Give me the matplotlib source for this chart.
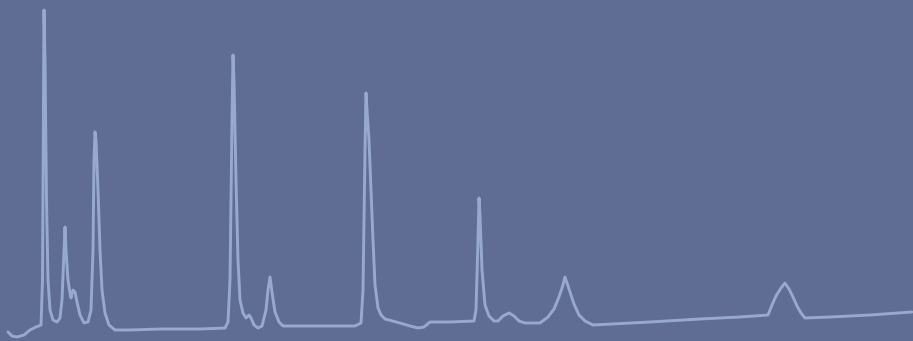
import numpy as np
import matplotlib
matplotlib.use('Agg')
import matplotlib.pyplot as plt

# trace (time, signal)
time = [8, 12, 17, 24, 30, 36, 41, 42.5, 43.5, 44, 45, 46.5, 48, 50, 53, 57, 60, 62, 64, 65,
        66, 68, 70, 71, 73, 75, 77, 80, 84, 88, 91, 93, 94, 95, 96, 98, 100, 102, 105, 109,
        115, 130, 160, 200, 225, 228, 230, 232, 233, 234, 236, 238, 240, 243, 246, 249, 251,
        254, 258, 262, 266, 268, 270, 272, 275, 279, 283, 300, 330, 355, 361, 363, 365, 366,
        367, 369, 371, 373, 375, 378, 381, 385, 400, 410, 418, 424, 430, 450, 474, 476, 478, 479,
        480, 482, 485, 489, 494, 498, 503, 509, 514, 519, 525, 540, 548, 554, 559, 563, 565,
        567, 570, 574, 579, 585, 593, 650, 700, 740, 768, 772, 776, 781, 785, 789, 793, 797,
        801, 805, 830, 870, 912]
signal = [9, 5, 4, 6, 11, 14, 16, 61, 241, 331, 281, 141, 61, 31, 21, 19, 23, 41, 91, 114,
          91, 61, 48, 43, 51, 49, 39, 26, 18, 19, 31, 91, 181, 209, 201, 151, 91, 51, 28, 16,
          11, 11, 12, 12, 13, 19, 61, 221, 286, 261, 161, 81, 41, 28, 23, 26, 23,
          16, 13, 15, 31, 51, 64, 49, 29, 19, 15, 15, 15, 15, 18, 51, 191, 248,
          231, 201, 151, 101, 56, 33, 26, 22, 18, 15, 13, 14, 19, 19, 20, 31, 101, 143,
          126, 71, 36, 25, 20, 20, 25, 28, 25, 20, 18, 18, 24, 32, 44, 56, 64,
          58, 49, 37, 26, 20, 16, 19, 22, 24, 26, 36, 45, 53, 58, 52, 44, 35,
          28, 23, 24, 26, 29]

bg = '#5f6c94'
fig = plt.figure(figsize=(9.13, 3.41), dpi=100, facecolor=bg)
ax = fig.add_axes([0, 0, 1, 1])
ax.set_facecolor(bg)
ax.plot(time, signal, color='#97a9d0', lw=2.1, solid_joinstyle='round', solid_capstyle='round')
ax.set_xlim(0, 913)
ax.set_ylim(0, 341)
ax.axis('off')

fig.savefig('out.png', dpi=100, facecolor=bg)
